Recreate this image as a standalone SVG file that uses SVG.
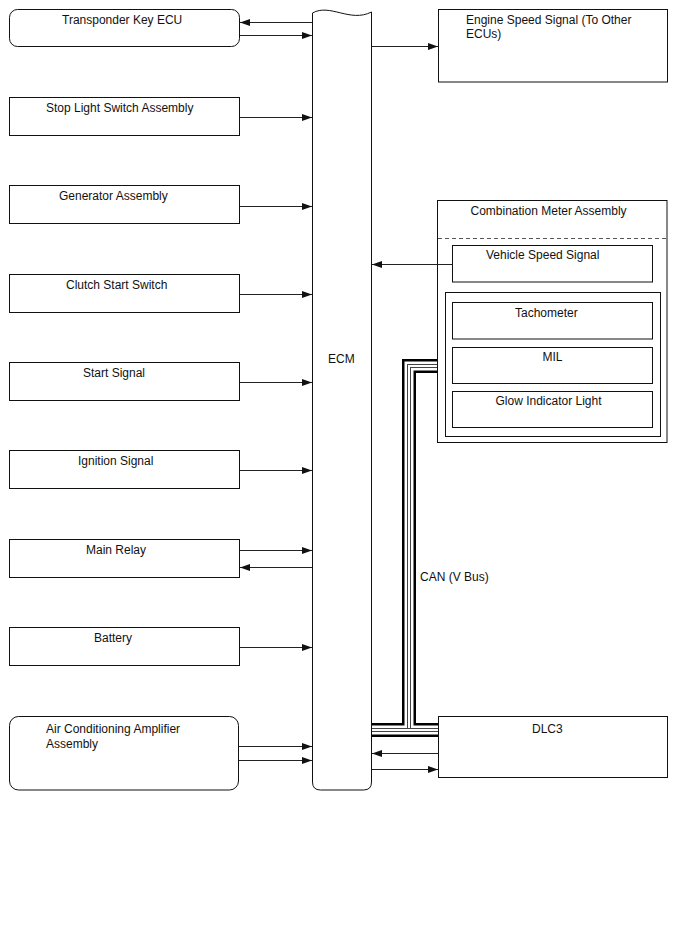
<svg xmlns="http://www.w3.org/2000/svg" width="688" height="949" viewBox="0 0 688 949">
<style>
.box{fill:#fff;stroke:#111;stroke-width:1}
.t{font-family:"Liberation Sans",Arial,sans-serif;font-size:12px;fill:#111}
.w{fill:none;stroke:#222;stroke-width:1}
</style>
<defs>
<marker id="ah" markerUnits="userSpaceOnUse" markerWidth="10" markerHeight="7" refX="10" refY="3.5" orient="auto">
<path d="M0,0 L10,3.5 L0,7 z" fill="#111"/>
</marker>
</defs>
<rect width="688" height="949" fill="#fff"/>

<g id="ecm">
<path class="box" d="M312.5,13 C330,3 350,23 371.5,12 L371.5,782 Q371.5,790 363.5,790 L320.5,790 Q312.5,790 312.5,782 Z"/>
<text class="t" x="328" y="363">ECM</text>
</g>

<g id="transponder">
<rect class="box" x="9.5" y="9.5" width="230" height="37" rx="8"/>
<text class="t" x="62" y="24">Transponder Key ECU</text>
</g>
<g id="stoplight">
<rect class="box" x="9.5" y="97.5" width="230" height="38"/>
<text class="t" x="46" y="111.5">Stop Light Switch Assembly</text>
</g>
<g id="generator">
<rect class="box" x="9.5" y="185.5" width="230" height="38"/>
<text class="t" x="59" y="199.5">Generator Assembly</text>
</g>
<g id="clutch">
<rect class="box" x="9.5" y="274.5" width="230" height="38"/>
<text class="t" x="66" y="288.5">Clutch Start Switch</text>
</g>
<g id="startsignal">
<rect class="box" x="9.5" y="362.5" width="230" height="38"/>
<text class="t" x="83" y="376.5">Start Signal</text>
</g>
<g id="ignition">
<rect class="box" x="9.5" y="450.5" width="230" height="38"/>
<text class="t" x="78" y="464.5">Ignition Signal</text>
</g>
<g id="mainrelay">
<rect class="box" x="9.5" y="539.5" width="230" height="38"/>
<text class="t" x="86" y="553.5">Main Relay</text>
</g>
<g id="battery">
<rect class="box" x="9.5" y="627.5" width="230" height="38"/>
<text class="t" x="94" y="641.5">Battery</text>
</g>
<g id="aircon">
<rect class="box" x="9.5" y="716.5" width="229" height="73.5" rx="9"/>
<text class="t" x="46" y="733">Air Conditioning Amplifier</text>
<text class="t" x="46" y="748">Assembly</text>
</g>

<g id="enginespeed">
<rect class="box" x="438.5" y="9.5" width="229" height="72.5"/>
<text class="t" x="466" y="24">Engine Speed Signal (To Other</text>
<text class="t" x="466" y="38">ECUs)</text>
</g>

<g id="combmeter">
<rect class="box" x="437.5" y="200.5" width="229.5" height="242"/>
<text class="t" x="470.5" y="214.5">Combination Meter Assembly</text>
<line x1="438" y1="238.5" x2="667" y2="238.5" stroke="#555" stroke-width="1" stroke-dasharray="4,3"/>
<g id="vss">
<rect class="box" x="452.5" y="245.5" width="200" height="36.5"/>
<text class="t" x="486" y="258.5">Vehicle Speed Signal</text>
</g>
<rect class="box" x="445.5" y="292.5" width="215" height="144"/>
<g id="tacho">
<rect class="box" x="452.5" y="302.5" width="200" height="36.5"/>
<text class="t" x="515" y="316.5">Tachometer</text>
</g>
<g id="mil">
<rect class="box" x="452.5" y="347.5" width="200" height="36"/>
<text class="t" x="542.5" y="360.5">MIL</text>
</g>
<g id="glow">
<rect class="box" x="452.5" y="391.5" width="200" height="36"/>
<text class="t" x="495.5" y="404.5">Glow Indicator Light</text>
</g>
</g>

<g id="dlc3">
<rect class="box" x="438.5" y="716.5" width="229" height="61"/>
<text class="t" x="532" y="733">DLC3</text>
</g>

<g id="connectors">
<line class="w" x1="312" y1="22.5" x2="240" y2="22.5" marker-end="url(#ah)"/>
<line class="w" x1="240" y1="35.5" x2="312" y2="35.5" marker-end="url(#ah)"/>
<line class="w" x1="372" y1="46.5" x2="438" y2="46.5" marker-end="url(#ah)"/>
<line class="w" x1="240" y1="117.5" x2="312" y2="117.5" marker-end="url(#ah)"/>
<line class="w" x1="240" y1="206.5" x2="312" y2="206.5" marker-end="url(#ah)"/>
<line class="w" x1="240" y1="294.5" x2="312" y2="294.5" marker-end="url(#ah)"/>
<line class="w" x1="240" y1="382.5" x2="312" y2="382.5" marker-end="url(#ah)"/>
<line class="w" x1="240" y1="470.5" x2="312" y2="470.5" marker-end="url(#ah)"/>
<line class="w" x1="240" y1="550.5" x2="312" y2="550.5" marker-end="url(#ah)"/>
<line class="w" x1="312" y1="567.5" x2="240" y2="567.5" marker-end="url(#ah)"/>
<line class="w" x1="240" y1="647.5" x2="312" y2="647.5" marker-end="url(#ah)"/>
<line class="w" x1="239" y1="746.5" x2="312" y2="746.5" marker-end="url(#ah)"/>
<line class="w" x1="239" y1="760.5" x2="312" y2="760.5" marker-end="url(#ah)"/>
<line class="w" x1="452" y1="264.5" x2="372" y2="264.5" marker-end="url(#ah)"/>
<line class="w" x1="438" y1="753.5" x2="372" y2="753.5" marker-end="url(#ah)"/>
<line class="w" x1="372" y1="769.5" x2="438" y2="769.5" marker-end="url(#ah)"/>
<g id="canbus" fill="none" stroke-linejoin="miter">
<path d="M409,730 L409,366 L437,366" stroke="#000" stroke-width="14"/>
<path d="M372,730 L438,730" stroke="#000" stroke-width="14"/>
<path d="M409,730 L409,366 L437,366" stroke="#fff" stroke-width="9"/>
<path d="M372,730 L438,730" stroke="#fff" stroke-width="9"/>
<path d="M409,728 L409,366 L437,366" stroke="#444" stroke-width="4"/>
<path d="M372,730 L438,730" stroke="#444" stroke-width="4"/>
<path d="M409,728 L409,366 L437,366" stroke="#fff" stroke-width="2"/>
<path d="M372,730 L438,730" stroke="#fff" stroke-width="2"/>
</g>
<text class="t" x="420" y="581">CAN (V Bus)</text>
</g>
</svg>
